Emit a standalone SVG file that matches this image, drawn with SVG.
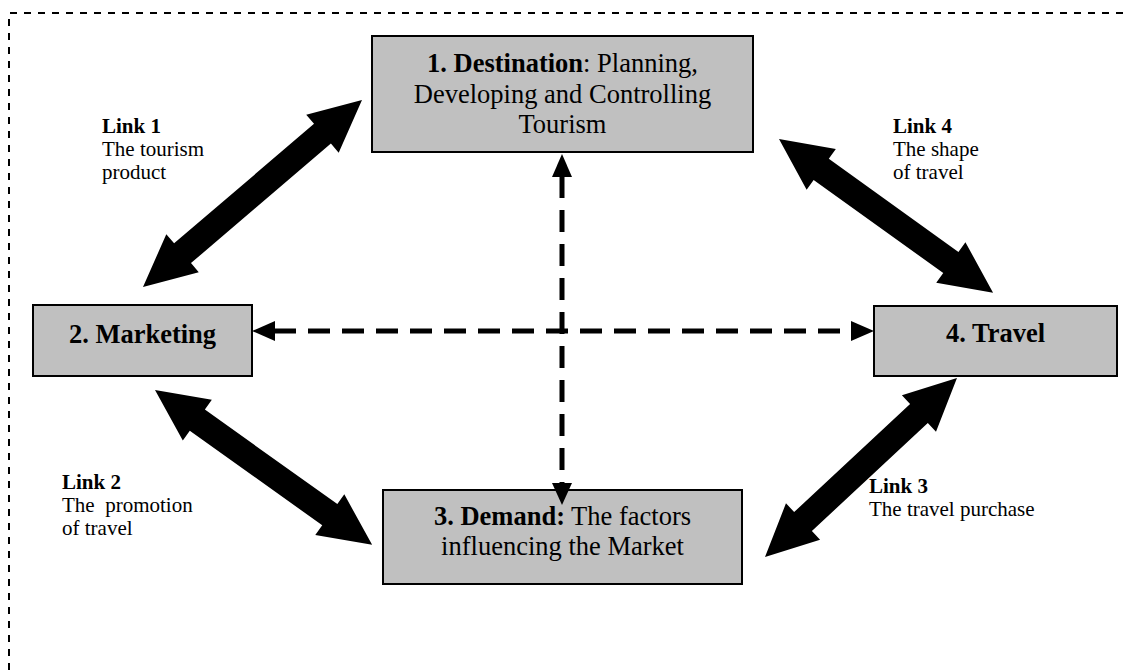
<svg xmlns="http://www.w3.org/2000/svg" width="1130" height="670" viewBox="0 0 1130 670">
<style>
.box{fill:#c0c0c0;stroke:#000;stroke-width:2}
.t{font-family:"Liberation Serif","Times New Roman",serif;fill:#000}
.big{font-size:26.5px}
.lbl{font-size:21px}
.b{font-weight:bold}
.dash{stroke:#000;stroke-width:5;stroke-dasharray:22 12;fill:none}
.frame{stroke:#000;stroke-width:2;stroke-dasharray:7 7;fill:none}
.blk{fill:#000}
</style>
<rect width="1130" height="670" fill="#fff"/>
<path class="frame" d="M9,670 V13 H1130"/>
<g id="connectors">
  <polygon class="blk" points="0,0 52,-25 52,-13 236,-13 236,-25 288,0 236,25 236,13 52,13 52,25" transform="translate(143,287) rotate(-40.5)"/>
  <polygon class="blk" points="0,0 52,-25 52,-13 211.6,-13 211.6,-25 263.6,0 211.6,25 211.6,13 52,13 52,25" transform="translate(779,139) rotate(35.7)"/>
  <polygon class="blk" points="0,0 52,-25 52,-13 214.7,-13 214.7,-25 266.7,0 214.7,25 214.7,13 52,13 52,25" transform="translate(155,390) rotate(35.5)"/>
  <polygon class="blk" points="0,0 52,-25 52,-13 210.5,-13 210.5,-25 262.5,0 210.5,25 210.5,13 52,13 52,25" transform="translate(765,557) rotate(-43)"/>
  <line class="dash" x1="274" y1="331" x2="852" y2="331"/>
  <polygon class="blk" points="252,331 275,321 275,341"/>
  <polygon class="blk" points="874,331 851,321 851,341"/>
  <line class="dash" x1="562" y1="176" x2="562" y2="484"/>
</g>
<g id="n1">
  <rect class="box" x="372" y="36" width="381" height="116"/>
  <text class="t big" x="562.5" y="72" text-anchor="middle"><tspan class="b">1. Destination</tspan>: Planning,</text>
  <text class="t big" x="562.5" y="103" text-anchor="middle">Developing and Controlling</text>
  <text class="t big" x="562.5" y="133" text-anchor="middle">Tourism</text>
</g>
<polygon class="blk" points="562,154 552,177 572,177"/>
<g id="n2">
  <rect class="box" x="33" y="305" width="219" height="71"/>
  <text class="t big b" x="142.5" y="343" text-anchor="middle">2. Marketing</text>
</g>
<g id="n4">
  <rect class="box" x="874" y="306" width="243" height="70"/>
  <text class="t big b" x="995.5" y="342" text-anchor="middle">4. Travel</text>
</g>
<g id="n3">
  <rect class="box" x="383" y="490" width="359" height="94"/>
  <text class="t big" x="562.5" y="525" text-anchor="middle"><tspan class="b">3. Demand:</tspan> The factors</text>
  <text class="t big" x="562.5" y="555" text-anchor="middle">influencing the Market</text>
</g>
<polygon class="blk" points="562,505 552,483 572,483"/>
<g id="labels">
  <text class="t lbl" x="102" y="133"><tspan class="b">Link 1</tspan><tspan x="102" dy="23">The tourism</tspan><tspan x="102" dy="23">product</tspan></text>
  <text class="t lbl" x="893" y="133"><tspan class="b">Link 4</tspan><tspan x="893" dy="23">The shape</tspan><tspan x="893" dy="23">of travel</tspan></text>
  <text class="t lbl" x="62" y="489" xml:space="preserve"><tspan class="b">Link 2</tspan><tspan x="62" dy="23">The  promotion</tspan><tspan x="62" dy="23">of travel</tspan></text>
  <text class="t lbl" x="869" y="493"><tspan class="b">Link 3</tspan><tspan x="869" dy="23">The travel purchase</tspan></text>
</g>
</svg>
